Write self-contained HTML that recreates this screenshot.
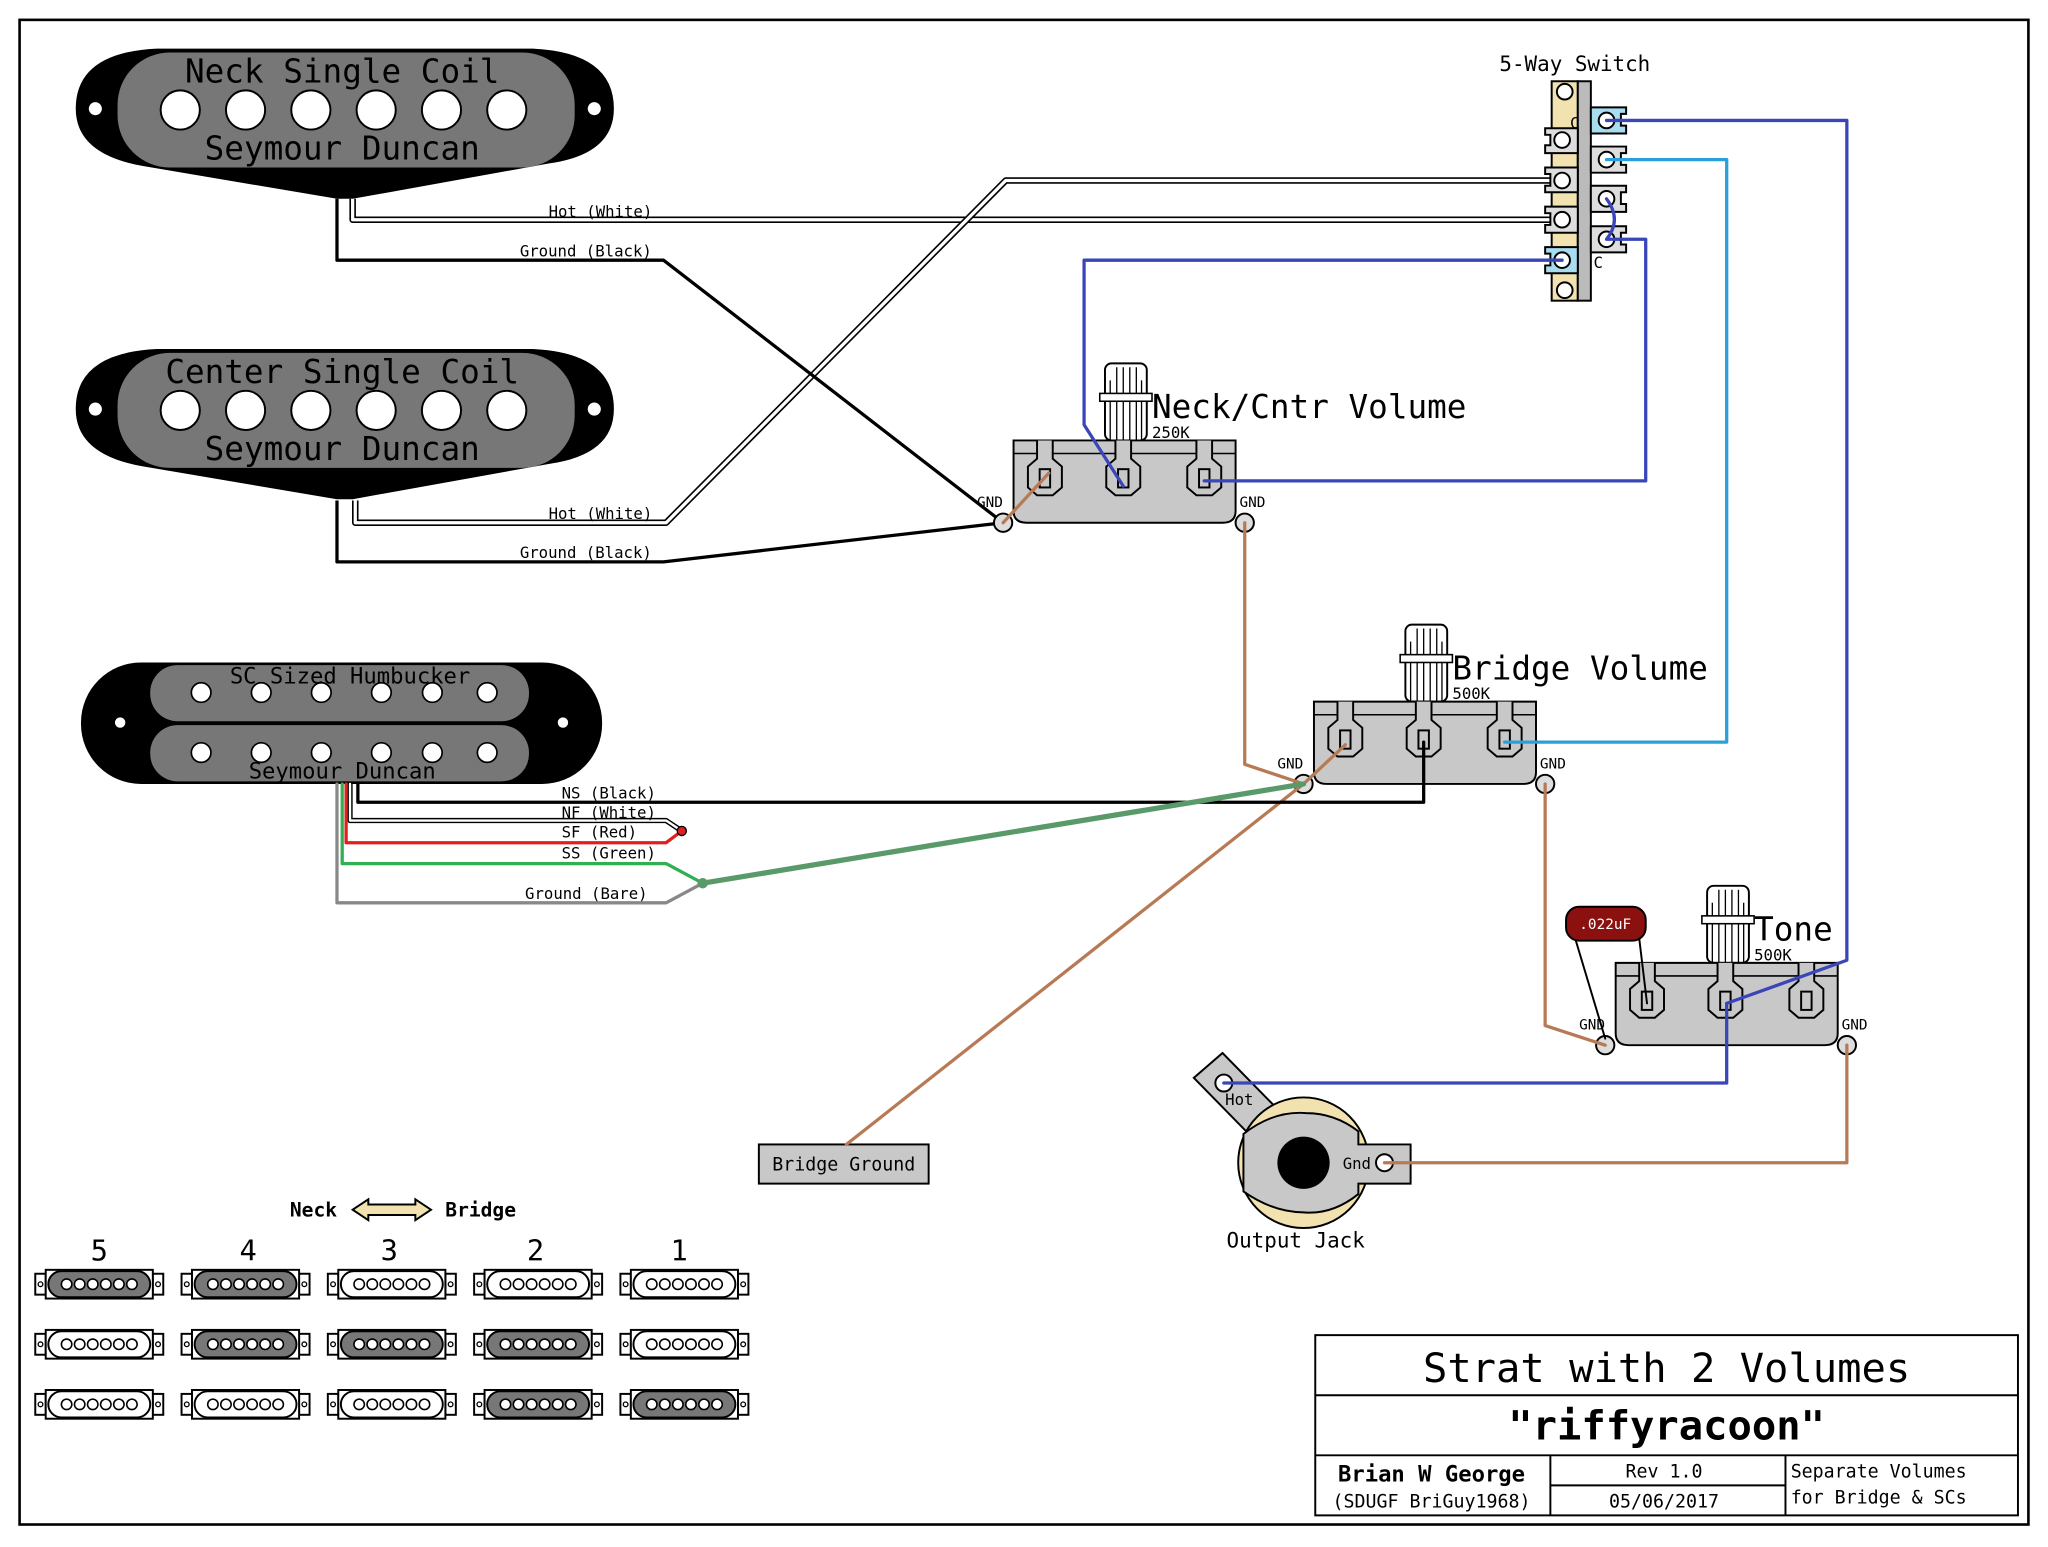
<!DOCTYPE html>
<html><head><meta charset="utf-8"><style>
html,body{margin:0;padding:0;background:#fff}
svg{display:block}
text{font-family:"DejaVu Sans Mono","Liberation Mono",monospace;fill:#000}
</style></head><body>
<svg width="2048" height="1547" viewBox="0 0 1568 1184" xmlns="http://www.w3.org/2000/svg">
<defs>
<g id="mini">
<rect x="-49" y="-8" width="8" height="16" fill="#fff" stroke="#000" stroke-width="1.5"/>
<rect x="41" y="-8" width="8" height="16" fill="#fff" stroke="#000" stroke-width="1.5"/>
<circle cx="-45" cy="0" r="1.8" fill="none" stroke="#000"/>
<circle cx="45" cy="0" r="1.8" fill="none" stroke="#000"/>
<rect x="-41" y="-11" width="82" height="22" fill="#fff" stroke="#000" stroke-width="1.5"/>
</g>
<g id="poles">
<circle cx="-25" cy="0" r="4" fill="#fff" stroke="#000" stroke-width="1.2"/>
<circle cx="-15" cy="0" r="4" fill="#fff" stroke="#000" stroke-width="1.2"/>
<circle cx="-5" cy="0" r="4" fill="#fff" stroke="#000" stroke-width="1.2"/>
<circle cx="5" cy="0" r="4" fill="#fff" stroke="#000" stroke-width="1.2"/>
<circle cx="15" cy="0" r="4" fill="#fff" stroke="#000" stroke-width="1.2"/>
<circle cx="25" cy="0" r="4" fill="#fff" stroke="#000" stroke-width="1.2"/>
</g>
<g id="md"><use href="#mini"/><rect x="-39" y="-10" width="78" height="20" rx="10" fill="#777" stroke="#000" stroke-width="1.5"/><use href="#poles"/></g>
<g id="mw"><use href="#mini"/><rect x="-39" y="-10" width="78" height="20" rx="10" fill="#fff" stroke="#000" stroke-width="1.5"/><use href="#poles"/></g>
<g id="lug">
<path d="M-6 0 V14 L-13 20 V36 L-6 42 H6 L13 36 V20 L6 14 V0" fill="#c8c8c8" stroke="#000" stroke-width="1.5"/>
<rect x="-4" y="22" width="8" height="14" fill="#c8c8c8" stroke="#000" stroke-width="1.5"/>
</g>
<g id="pot">
<rect x="70" y="-59" width="32" height="59" rx="5" fill="#fff" stroke="#000" stroke-width="1.5"/>
<path d="M74 -46 V0 M79 -56 V0 M84 -56 V0 M89 -56 V0 M94 -56 V0 M98 -46 V0" stroke="#000" stroke-width="1"/>
<rect x="66" y="-36" width="40" height="6" fill="#fff" stroke="#000" stroke-width="1.2"/>
<path d="M0 0 H170 V54 Q170 63 160 63 H10 Q0 63 0 54 Z" fill="#c8c8c8" stroke="#000" stroke-width="1.5"/>
<line x1="0" y1="10" x2="170" y2="10" stroke="#000" stroke-width="1.2"/>
<g transform="translate(24,0)"><use href="#lug"/></g>
<g transform="translate(84,0)"><use href="#lug"/></g>
<g transform="translate(146,0)"><use href="#lug"/></g>
<circle cx="-8" cy="63" r="7" fill="#ddd" stroke="#000" stroke-width="1.5"/>
<circle cx="177" cy="63" r="7" fill="#ddd" stroke="#000" stroke-width="1.5"/>
<text x="-28" y="51" font-size="11">GND</text>
<text x="173" y="51" font-size="11">GND</text>
</g>
</defs>

<rect x="15" y="15" width="1538" height="1152" fill="#fff" stroke="#000" stroke-width="2"/>

<!-- single coils -->
<g id="sc">
<path d="M120 37 H408 Q470 40 470 83 Q470 118 420 125 L270 152 H258 L110 127 Q58 118 58 83 Q58 40 120 37 Z" fill="#000"/>
<circle cx="73" cy="83" r="5" fill="#fff"/><circle cx="455" cy="83" r="5" fill="#fff"/>
<rect x="90" y="40" width="350" height="88" rx="40" fill="#777"/>
<g fill="#fff" stroke="#000" stroke-width="1.5">
<circle cx="138" cy="84" r="15"/><circle cx="188" cy="84" r="15"/><circle cx="238" cy="84" r="15"/><circle cx="288" cy="84" r="15"/><circle cx="338" cy="84" r="15"/><circle cx="388" cy="84" r="15"/>
</g>
</g>
<text x="262" y="63" font-size="25" text-anchor="middle">Neck Single Coil</text>
<text x="262" y="122" font-size="25" text-anchor="middle">Seymour Duncan</text>
<g transform="translate(0,230)"><use href="#sc"/></g>
<text x="262" y="293" font-size="25" text-anchor="middle">Center Single Coil</text>
<text x="262" y="352" font-size="25" text-anchor="middle">Seymour Duncan</text>

<!-- humbucker -->
<rect x="62" y="507" width="399" height="93" rx="46" fill="#000"/>
<circle cx="92" cy="553" r="4" fill="#fff"/><circle cx="431" cy="553" r="4" fill="#fff"/>
<rect x="115" y="509" width="290" height="43" rx="21" fill="#777"/>
<rect x="115" y="555" width="290" height="43" rx="21" fill="#777"/>
<g fill="#fff" stroke="#000" stroke-width="1.3">
<circle cx="154" cy="530" r="7.5"/><circle cx="200" cy="530" r="7.5"/><circle cx="246" cy="530" r="7.5"/><circle cx="292" cy="530" r="7.5"/><circle cx="331" cy="530" r="7.5"/><circle cx="373" cy="530" r="7.5"/>
<circle cx="154" cy="576" r="7.5"/><circle cx="200" cy="576" r="7.5"/><circle cx="246" cy="576" r="7.5"/><circle cx="292" cy="576" r="7.5"/><circle cx="331" cy="576" r="7.5"/><circle cx="373" cy="576" r="7.5"/>
</g>
<text x="268" y="523" font-size="17" text-anchor="middle">SC Sized Humbucker</text>
<text x="262" y="596" font-size="17" text-anchor="middle">Seymour Duncan</text>

<!-- pickup wires -->
<g fill="none" stroke-linejoin="round">
<path d="M270 152 V168 H1198" stroke="#000" stroke-width="5"/>
<path d="M270 152 V168 H1198" stroke="#fff" stroke-width="2.5"/>
<path d="M272 383 V400 H510 L770 138 H1198" stroke="#000" stroke-width="5"/>
<path d="M272 383 V400 H510 L770 138 H1198" stroke="#fff" stroke-width="2.5"/>
<path d="M258 152 V199 H508 L768 400" stroke="#000" stroke-width="2.5"/>
<path d="M258 383 V430 H508 L768 400" stroke="#000" stroke-width="2.5"/>
</g>
<g font-size="12">
<text x="420" y="166">Hot (White)</text>
<text x="398" y="196">Ground (Black)</text>
<text x="420" y="397">Hot (White)</text>
<text x="398" y="427">Ground (Black)</text>
</g>

<!-- switch -->
<rect x="1188" y="62" width="20" height="168" fill="#f2e2b0" stroke="#000" stroke-width="1.5"/>
<rect x="1208" y="62" width="10" height="168" fill="#bbb" stroke="#000" stroke-width="1.5"/>
<circle cx="1198" cy="70" r="6" fill="#fff" stroke="#000" stroke-width="1.5"/>
<circle cx="1198" cy="222" r="6" fill="#fff" stroke="#000" stroke-width="1.5"/>
<g stroke="#000" stroke-width="1.5">
<path d="M1208 98 H1183 V103 H1187 V111 H1183 V117 H1208 Z" fill="#ddd"/>
<path d="M1208 128 H1183 V133 H1187 V142 H1183 V147 H1208 Z" fill="#ddd"/>
<path d="M1208 158 H1183 V163 H1187 V172 H1183 V178 H1208 Z" fill="#ddd"/>
<path d="M1208 189 H1183 V194 H1187 V203 H1183 V209 H1208 Z" fill="#a8dcef"/>
<path d="M1218 82 H1245 V87 H1241 V96 H1245 V102 H1218 Z" fill="#a8dcef"/>
<path d="M1218 112 H1245 V117 H1241 V126 H1245 V132 H1218 Z" fill="#ddd"/>
<path d="M1218 142 H1245 V147 H1241 V156 H1245 V162 H1218 Z" fill="#ddd"/>
<path d="M1218 173 H1245 V178 H1241 V187 H1245 V193 H1218 Z" fill="#ddd"/>
</g>
<g fill="#fff" stroke="#000" stroke-width="1.5">
<circle cx="1196" cy="107" r="6"/><circle cx="1196" cy="138" r="6"/><circle cx="1196" cy="168" r="6"/><circle cx="1196" cy="199" r="6"/>
<circle cx="1230" cy="92" r="6"/><circle cx="1230" cy="122" r="6"/><circle cx="1230" cy="152" r="6"/><circle cx="1230" cy="183" r="6"/>
</g>
<text x="1202" y="98" font-size="12">C</text>
<text x="1220" y="205" font-size="12">C</text>
<text x="1148" y="54" font-size="16">5-Way Switch</text>

<!-- pots -->
<g transform="translate(776,337)"><use href="#pot"/></g>
<text x="882" y="320" font-size="25">Neck/Cntr Volume</text>
<text x="882" y="335" font-size="12">250K</text>
<g transform="translate(1006,537)"><use href="#pot"/></g>
<text x="1112" y="520" font-size="25">Bridge Volume</text>
<text x="1112" y="535" font-size="12">500K</text>
<g transform="translate(1237,737)"><use href="#pot"/></g>
<text x="1343" y="720" font-size="25">Tone</text>
<text x="1343" y="735" font-size="12">500K</text>

<!-- jack -->
<path d="M914 825 L936 806 L985 856 L963 875 Z" fill="#c8c8c8" stroke="#000" stroke-width="1.5"/>
<circle cx="937" cy="829" r="6.5" fill="#fff" stroke="#000" stroke-width="1.5"/>
<text x="938" y="846" font-size="12">Hot</text>
<circle cx="998" cy="890" r="50" fill="#f2e2b0" stroke="#000" stroke-width="1.5"/>
<path d="M952 868 Q975 850 1000 852 Q1022 852 1040 866 V876 H1080 V906 H1040 V914 Q1020 930 998 928 Q975 928 952 912 Z" fill="#c8c8c8" stroke="#000" stroke-width="1.5"/>
<circle cx="998" cy="890" r="20" fill="#000"/>
<circle cx="1060" cy="890" r="6.5" fill="#fff" stroke="#000" stroke-width="1.5"/>
<text x="1028" y="895" font-size="12">Gnd</text>
<text x="992" y="955" font-size="16" text-anchor="middle">Output Jack</text>

<!-- bridge ground -->
<rect x="581" y="876" width="130" height="30" fill="#c8c8c8" stroke="#000" stroke-width="1.5"/>
<text x="646" y="896" font-size="14" text-anchor="middle">Bridge Ground</text>

<!-- wires -->
<g fill="none" stroke-linejoin="round" stroke-linecap="round">
<path d="M1230 92 H1414 V735 L1322 768" stroke="#3a45b8" stroke-width="2.5"/>
<path d="M1230 122 H1322 V568 H1152" stroke="#2aa0d8" stroke-width="2.5"/>
<path d="M1230 152 Q1242 168 1230 183 H1260 V368 H922" stroke="#3a45b8" stroke-width="2.5"/>
<path d="M1196 199 H830 V325 L860 372" stroke="#3a45b8" stroke-width="2.5"/>
<path d="M1322 768 V829 H937" stroke="#3a45b8" stroke-width="2.5"/>
<path d="M768 400 L803 362" stroke="#b87a55" stroke-width="2.5"/>
<path d="M953 400 V585 L998 600 L1030 570" stroke="#b87a55" stroke-width="2.5"/>
<path d="M998 600 L648 876" stroke="#b87a55" stroke-width="2.5"/>
<path d="M1183 600 V785 L1229 800" stroke="#b87a55" stroke-width="2.5"/>
<path d="M1414 800 V890 H1060" stroke="#b87a55" stroke-width="2.5"/>
<path d="M1205 715 L1229 795 M1255 718 L1261 768" stroke="#000" stroke-width="1.5"/>
<path d="M274 600 V614 H1090 V568" stroke="#000" stroke-width="2.5"/>
<path d="M268 600 V628 H510 L522 636" stroke="#000" stroke-width="4"/>
<path d="M268 600 V628 H510 L522 636" stroke="#fff" stroke-width="1.8"/>
<path d="M265 600 V645 H510 L522 636" stroke="#e02020" stroke-width="2.5"/>
<path d="M262 600 V661 H510 L538 676" stroke="#30b050" stroke-width="2.5"/>
<path d="M258 600 V691 H510 L538 676" stroke="#888" stroke-width="2.5"/>
<path d="M538 676 L998 600" stroke="#5a9a6a" stroke-width="4"/>
</g>
<circle cx="522" cy="636" r="3.5" fill="#e02020" stroke="#000"/>
<circle cx="538" cy="676" r="4" fill="#5a9a6a"/>
<g font-size="12">
<text x="430" y="611">NS (Black)</text>
<text x="430" y="626">NF (White)</text>
<text x="430" y="641">SF (Red)</text>
<text x="430" y="657">SS (Green)</text>
<text x="402" y="688">Ground (Bare)</text>
</g>

<!-- cap -->
<rect x="1199" y="694" width="61" height="26" rx="10" fill="#8b1010" stroke="#000" stroke-width="1.5"/>
<text x="1229" y="711" font-size="11" text-anchor="middle" style="fill:#fff">.022uF</text>

<!-- legend -->
<text x="240" y="931" font-size="15" font-weight="bold" text-anchor="middle">Neck</text>
<path d="M270 926 L282 918 V922 H318 V918 L330 926 L318 934 V930 H282 V934 Z" fill="#f2e2b0" stroke="#000" stroke-width="1.5"/>
<text x="368" y="931" font-size="15" font-weight="bold" text-anchor="middle">Bridge</text>
<g font-size="22" text-anchor="middle">
<text x="76" y="965">5</text><text x="190" y="965">4</text><text x="298" y="965">3</text><text x="410" y="965">2</text><text x="520" y="965">1</text>
</g>
<use href="#md" x="76" y="983"/><use href="#md" x="188" y="983"/><use href="#mw" x="300" y="983"/><use href="#mw" x="412" y="983"/><use href="#mw" x="524" y="983"/>
<use href="#mw" x="76" y="1029"/><use href="#md" x="188" y="1029"/><use href="#md" x="300" y="1029"/><use href="#md" x="412" y="1029"/><use href="#mw" x="524" y="1029"/>
<use href="#mw" x="76" y="1075"/><use href="#mw" x="188" y="1075"/><use href="#mw" x="300" y="1075"/><use href="#md" x="412" y="1075"/><use href="#md" x="524" y="1075"/>

<!-- title block -->
<g stroke="#000" stroke-width="1.5" fill="none">
<rect x="1007" y="1022" width="538" height="138"/>
<line x1="1007" y1="1068" x2="1545" y2="1068"/>
<line x1="1007" y1="1114" x2="1545" y2="1114"/>
<line x1="1187" y1="1114" x2="1187" y2="1160"/>
<line x1="1367" y1="1114" x2="1367" y2="1160"/>
<line x1="1187" y1="1137" x2="1367" y2="1137"/>
</g>
<text x="1276" y="1058" font-size="31" text-anchor="middle">Strat with 2 Volumes</text>
<text x="1276" y="1102" font-size="31" font-weight="bold" text-anchor="middle">"riffyracoon"</text>
<text x="1096" y="1134" font-size="17" font-weight="bold" text-anchor="middle">Brian W George</text>
<text x="1096" y="1154" font-size="14" text-anchor="middle">(SDUGF BriGuy1968)</text>
<text x="1274" y="1131" font-size="14" text-anchor="middle">Rev 1.0</text>
<text x="1274" y="1154" font-size="14" text-anchor="middle">05/06/2017</text>
<text x="1371" y="1131" font-size="14">Separate Volumes</text>
<text x="1371" y="1151" font-size="14">for Bridge &amp; SCs</text>
</svg>
</body></html>
